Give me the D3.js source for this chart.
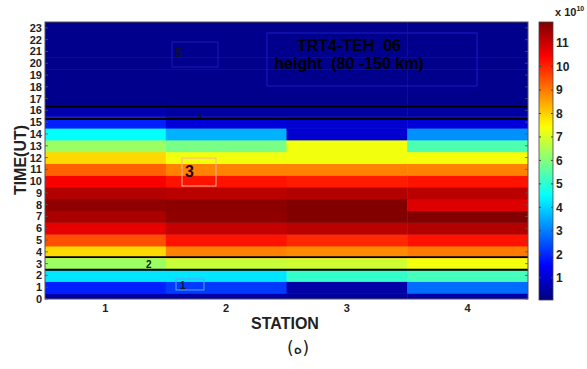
<!DOCTYPE html>
<html>
<head>
<meta charset="utf-8">
<script src="https://cdn.jsdelivr.net/npm/d3@7"></script>
<style>
  body { margin: 0; background: #fff; }
  svg text { font-family: 'Liberation Sans', Arial, sans-serif; }
</style>
</head>
<body>
<div id="chart"></div>
<script>
// stations along x, hours (UT) along y, values in units of 1e10
const stations = [1, 2, 3, 4];
const hours = [0, 1, 2, 3, 4, 5, 6, 7, 8, 9, 10, 11, 12, 13, 14, 15, 16, 17, 18, 19, 20, 21, 22, 23];
const station1 = [0.5, 1.9, 4.2, 6.3, 7.9, 9.5, 10.7, 11.4, 11.7, 11.3, 10.5, 9.3, 7.9, 6.3, 4.5, 1.9, 0.6, 0.2, 0.2, 0.2, 0.2, 0.2, 0.2, 0.2];
const station2 = [0.5, 2.2, 4.2, 6.8, 8.9, 10.2, 11.1, 11.7, 11.75, 11.2, 10.2, 8.9, 7.3, 5.9, 3.6, 1.1, 0.45, 0.2, 0.2, 0.2, 0.2, 0.2, 0.2, 0.2];
const station3 = [0.4, 0.5, 5.1, 6.9, 8.8, 9.95, 11.2, 11.85, 11.85, 11.3, 10.1, 8.9, 7.3, 7.3, 1.0, 1.0, 0.45, 0.2, 0.2, 0.2, 0.2, 0.2, 0.2, 0.2];
const station4 = [0.5, 2.8, 5.3, 7.3, 9.0, 10.2, 11.3, 11.85, 10.8, 11.2, 10.2, 8.9, 7.35, 5.4, 3.2, 1.1, 0.45, 0.2, 0.2, 0.2, 0.2, 0.2, 0.2, 0.2];
const colorTicks = [1, 2, 3, 4, 5, 6, 7, 8, 9, 10, 11];
const separatorLevels = [2.48, 3.55, 15.27, 16.32];

const stationValues = [station1, station2, station3, station4];
const cells = stations.flatMap((station, i) =>
  hours.map((hour, j) => ({ station, hour, value: stationValues[i][j] })));

const width = 587;
const height = 369;
const plot = { left: 45, right: 528, top: 22, bottom: 299 };
const bar = { left: 539, right: 553, top: 22, bottom: 300 };
const colorDomain = [0.05, 11.9];

const svg = d3.select('#chart').append('svg')
  .attr('width', width).attr('height', height);

const xScale = d3.scaleLinear().domain([0.5, 4.5]).range([plot.left, plot.right]);
const yScale = d3.scaleLinear().domain([0, 23.5]).range([plot.bottom, plot.top]);

// matlab "jet" colormap stops
const jetStops = [0, 1 / 8, 3 / 8, 5 / 8, 7 / 8, 1];
const jetColors = ['#00007f', '#0000ff', '#00ffff', '#ffff00', '#ff0000', '#7f0000'];
const color = d3.scaleLinear()
  .domain(jetStops.map(t => colorDomain[0] + t * (colorDomain[1] - colorDomain[0])))
  .range(jetColors)
  .clamp(true);

svg.append('clipPath').attr('id', 'plot-clip')
  .append('rect')
  .attr('x', plot.left).attr('y', plot.top)
  .attr('width', plot.right - plot.left).attr('height', plot.bottom - plot.top);

const cellLayer = svg.append('g').attr('clip-path', 'url(#plot-clip)');

cellLayer.selectAll('.cell')
  .data(cells)
  .enter()
  .append('rect')
  .attr('class', 'cell')
  .attr('x', d => xScale(d.station - 0.5))
  .attr('y', d => yScale(d.hour + 0.5))
  .attr('width', d => xScale(d.station + 0.5) - xScale(d.station - 0.5) + 0.5)
  .attr('height', d => yScale(d.hour - 0.5) - yScale(d.hour + 0.5) + 0.5)
  .attr('fill', d => color(d.value));

cellLayer.selectAll('.separator')
  .data(separatorLevels)
  .enter()
  .append('line')
  .attr('class', 'separator')
  .attr('x1', plot.left).attr('x2', plot.right)
  .attr('y1', d => yScale(d)).attr('y2', d => yScale(d))
  .attr('stroke', '#000')
  .attr('stroke-width', 1.8);

// annotation boxes and labels drawn on the picture
const notes = svg.append('g');
notes.append('rect')
  .attr('x', 267).attr('y', 33).attr('width', 210).attr('height', 53)
  .attr('fill', 'none').attr('stroke', '#1a1ac8').attr('stroke-width', 1);
notes.append('text')
  .attr('x', 349).attr('y', 51)
  .attr('text-anchor', 'middle')
  .attr('font-size', 16).attr('font-weight', 'bold')
  .attr('fill', '#000')
  .text('TRT4-TEH\u00a0\u00a006');
notes.append('text')
  .attr('x', 349).attr('y', 69)
  .attr('text-anchor', 'middle')
  .attr('font-size', 16).attr('font-weight', 'bold')
  .attr('fill', '#000')
  .text('height\u00a0\u00a0(80 -150 km)');

notes.append('rect')
  .attr('x', 172).attr('y', 42).attr('width', 46).attr('height', 25)
  .attr('fill', 'none').attr('stroke', '#1a1ab4').attr('stroke-width', 1);
notes.append('text')
  .attr('x', 175).attr('y', 57)
  .attr('font-size', 12).attr('font-weight', 'bold').attr('fill', '#10102a')
  .text('5');

notes.append('text')
  .attr('x', 198).attr('y', 119)
  .attr('font-size', 8).attr('font-weight', 'bold').attr('fill', '#10102a')
  .text('4');

notes.append('rect')
  .attr('x', 182).attr('y', 158).attr('width', 34).attr('height', 28)
  .attr('fill', 'none').attr('stroke', '#ffb49a').attr('stroke-width', 1);
notes.append('text')
  .attr('x', 185).attr('y', 177)
  .attr('font-size', 16).attr('font-weight', 'bold').attr('fill', '#2a0000')
  .text('3');

notes.append('text')
  .attr('x', 146).attr('y', 268)
  .attr('font-size', 10).attr('font-weight', 'bold').attr('fill', '#102010')
  .text('2');

notes.append('rect')
  .attr('x', 176).attr('y', 279).attr('width', 28).attr('height', 11)
  .attr('fill', 'none').attr('stroke', '#5aa0ff').attr('stroke-width', 1);
notes.append('text')
  .attr('x', 180).attr('y', 289)
  .attr('font-size', 10).attr('font-weight', 'bold').attr('fill', '#10102a')
  .text('1');

// axes box
svg.append('rect')
  .attr('x', plot.left).attr('y', plot.top)
  .attr('width', plot.right - plot.left).attr('height', plot.bottom - plot.top)
  .attr('fill', 'none').attr('stroke', '#555').attr('stroke-width', 1);

const yAxis = svg.append('g').attr('class', 'y axis');
yAxis.selectAll('text')
  .data(hours)
  .enter()
  .append('text')
  .attr('x', 42)
  .attr('y', d => yScale(d))
  .attr('dy', '0.36em')
  .attr('text-anchor', 'end')
  .attr('font-size', 11).attr('font-weight', 'bold').attr('fill', '#222')
  .text(d => d);
yAxis.selectAll('.tick-left')
  .data(hours)
  .enter()
  .append('line')
  .attr('x1', plot.left).attr('x2', plot.left + 3)
  .attr('y1', d => yScale(d)).attr('y2', d => yScale(d))
  .attr('stroke', '#555').attr('stroke-width', 0.8);
yAxis.selectAll('.tick-right')
  .data(hours)
  .enter()
  .append('line')
  .attr('x1', plot.right - 3).attr('x2', plot.right)
  .attr('y1', d => yScale(d)).attr('y2', d => yScale(d))
  .attr('stroke', '#555').attr('stroke-width', 0.8);

svg.append('g').attr('class', 'x axis')
  .selectAll('text')
  .data(stations)
  .enter()
  .append('text')
  .attr('x', d => xScale(d))
  .attr('y', 312)
  .attr('text-anchor', 'middle')
  .attr('font-size', 11).attr('font-weight', 'bold').attr('fill', '#222')
  .text(d => d);

svg.append('text')
  .attr('x', 285).attr('y', 329)
  .attr('text-anchor', 'middle')
  .attr('font-size', 16).attr('font-weight', 'bold').attr('fill', '#222')
  .text('STATION');

svg.append('text')
  .attr('transform', 'translate(26,160) rotate(-90)')
  .attr('text-anchor', 'middle')
  .attr('font-size', 16).attr('font-weight', 'bold').attr('fill', '#222')
  .text('TIME(UT)');

// colorbar
const barScale = d3.scaleLinear().domain(colorDomain).range([bar.bottom, bar.top]);
const gradient = svg.append('defs').append('linearGradient')
  .attr('id', 'jet-gradient')
  .attr('x1', 0).attr('y1', 1).attr('x2', 0).attr('y2', 0);
gradient.selectAll('stop')
  .data(d3.range(0, 1.0001, 0.02))
  .enter()
  .append('stop')
  .attr('offset', t => t)
  .attr('stop-color', t => color(colorDomain[0] + t * (colorDomain[1] - colorDomain[0])));

svg.append('rect')
  .attr('x', bar.left).attr('y', bar.top)
  .attr('width', bar.right - bar.left).attr('height', bar.bottom - bar.top)
  .attr('fill', 'url(#jet-gradient)')
  .attr('stroke', '#444').attr('stroke-width', 0.8);

const barAxis = svg.append('g');
barAxis.selectAll('text')
  .data(colorTicks)
  .enter()
  .append('text')
  .attr('x', 556)
  .attr('y', d => barScale(d))
  .attr('dy', '0.36em')
  .attr('font-size', 12).attr('font-weight', 'bold').attr('fill', '#222')
  .text(d => d);
barAxis.selectAll('.tick-left')
  .data(colorTicks)
  .enter()
  .append('line')
  .attr('x1', bar.left).attr('x2', bar.left + 2)
  .attr('y1', d => barScale(d)).attr('y2', d => barScale(d))
  .attr('stroke', '#444');
barAxis.selectAll('.tick-right')
  .data(colorTicks)
  .enter()
  .append('line')
  .attr('x1', bar.right - 2).attr('x2', bar.right)
  .attr('y1', d => barScale(d)).attr('y2', d => barScale(d))
  .attr('stroke', '#444');

const exponent = svg.append('text')
  .attr('x', 555).attr('y', 16)
  .attr('font-size', 11).attr('font-weight', 'bold').attr('fill', '#222');
exponent.append('tspan').text('x 10');
exponent.append('tspan').attr('dy', -5).attr('font-size', 7).text('10');

svg.append('text')
  .attr('x', 298).attr('y', 354)
  .attr('text-anchor', 'middle')
  .attr('font-size', 17)
  .attr('fill', '#222')
  .style('font-family', "'DejaVu Sans', sans-serif")
  .text('(ه)');
</script>
</body>
</html>
